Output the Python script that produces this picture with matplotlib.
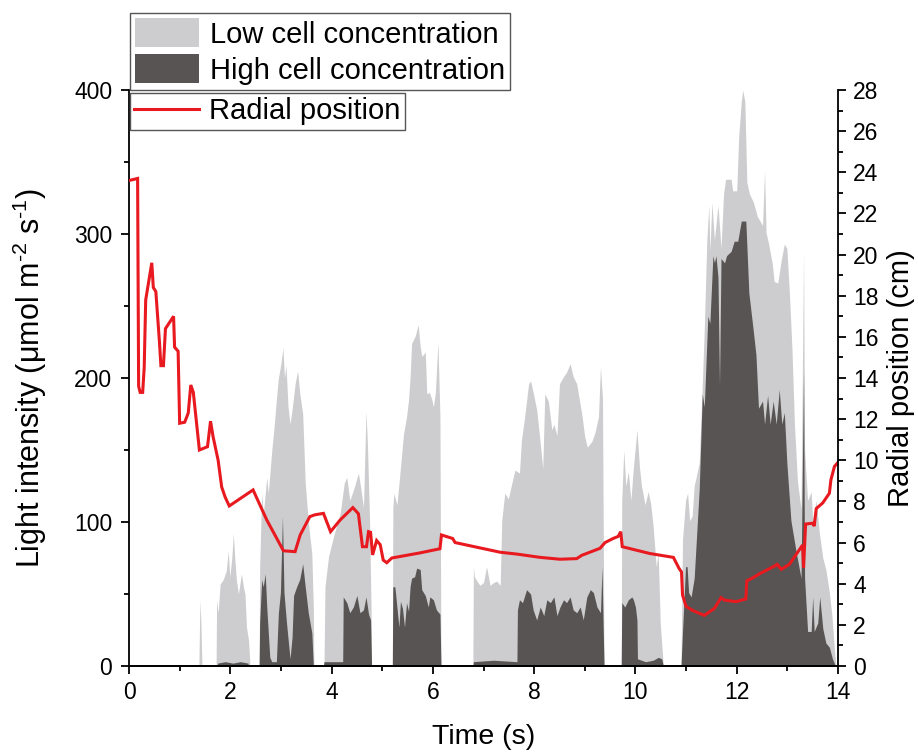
import matplotlib
matplotlib.use("Agg")
import matplotlib.pyplot as plt
from matplotlib.patches import Patch
from matplotlib.lines import Line2D
from matplotlib.ticker import MultipleLocator

plt.rcParams["font.family"] = ["Liberation Sans", "DejaVu Sans"]
plt.rcParams["mathtext.fontset"] = "custom"
plt.rcParams["mathtext.rm"] = "Liberation Sans"
plt.rcParams["mathtext.it"] = "Liberation Sans"

# low cell concentration (light grey), time in s, light intensity in umol m-2 s-1
low_t = [0.0, 1.38, 1.40, 1.42, 1.44,
         1.72, 1.73, 1.76, 1.80, 1.86, 1.92, 1.96, 1.99, 2.03, 2.06, 2.09, 2.12, 2.16, 2.22, 2.26, 2.29, 2.32, 2.36, 2.39,
         2.57, 2.58, 2.62, 2.65, 2.72, 2.75, 2.82, 2.86, 2.91, 2.95, 3.00, 3.04, 3.07, 3.10, 3.14, 3.18, 3.22, 3.28,
         3.33, 3.37, 3.43, 3.48, 3.54, 3.61, 3.64, 3.65,
         3.85, 3.87, 3.94, 4.04, 4.17, 4.25, 4.30, 4.36, 4.43, 4.53, 4.57, 4.63, 4.68, 4.71, 4.75, 4.78, 4.79,
         5.20, 5.21, 5.23, 5.29, 5.34, 5.42, 5.48, 5.52, 5.55, 5.58, 5.65, 5.71, 5.75, 5.78, 5.85, 5.88, 5.93, 5.98,
         6.01, 6.05, 6.10, 6.14, 6.16,
         6.79, 6.80, 6.82, 6.87, 6.93, 7.00, 7.06, 7.13, 7.20, 7.26, 7.33, 7.36, 7.42, 7.49, 7.56, 7.62, 7.71, 7.75,
         7.82, 7.89, 7.93, 7.98, 8.05, 8.12, 8.17, 8.21, 8.28, 8.35, 8.39, 8.45, 8.50, 8.58, 8.64, 8.71, 8.77, 8.84,
         8.94, 9.00, 9.05, 9.14, 9.20, 9.27, 9.31, 9.35, 9.38,
         9.72, 9.73, 9.77, 9.81, 9.86, 9.91, 9.96, 10.03, 10.08, 10.12, 10.19, 10.25, 10.30, 10.35, 10.41, 10.45,
         10.49, 10.55,
         10.90, 10.93, 10.99, 11.03, 11.07, 11.12, 11.16, 11.26, 11.32, 11.36, 11.41, 11.45, 11.47, 11.51, 11.56,
         11.63, 11.69, 11.74, 11.78, 11.89, 11.92, 12.00, 12.04, 12.09, 12.12, 12.16, 12.20, 12.25, 12.33, 12.41,
         12.51, 12.55, 12.58, 12.63, 12.70, 12.74, 12.81, 12.88, 12.94, 12.99, 13.04, 13.09, 13.14, 13.20, 13.27,
         13.32, 13.34, 13.40, 13.47, 13.50, 13.57, 13.63, 13.70, 13.76, 13.83, 13.88, 13.93, 13.96, 14.0]
low_v = [0, 0, 46, 30, 0,
         0, 46, 37, 57, 60, 66, 80, 62, 75, 92, 74, 60, 50, 64, 55, 50, 27, 18, 0,
         0, 69, 120, 105, 131, 120, 150, 164, 185, 200, 210, 221, 200, 209, 180, 168, 178, 196,
         205, 190, 175, 127, 100, 78, 40, 0,
         0, 55, 76, 90, 106, 127, 131, 115, 122, 134, 125, 110, 177, 152, 101, 40, 0,
         0, 110, 120, 112, 130, 161, 173, 185, 200, 224, 229, 237, 222, 215, 218, 189, 190, 185,
         180, 190, 225, 173, 0,
         0, 69, 62, 59, 56, 58, 69, 56, 58, 59, 56, 101, 120, 116, 127, 136, 134, 157,
         175, 196, 198, 190, 178, 155, 137, 189, 184, 164, 168, 160, 196, 201, 204, 210, 201, 196,
         175, 159, 152, 156, 162, 173, 208, 185, 0,
         0, 115, 150, 125, 135, 115, 138, 164, 138, 125, 112, 121, 113, 97, 69, 78,
         30, 0,
         0, 88, 115, 120, 101, 104, 125, 141, 195, 235, 296, 320, 288, 322, 296,
         320, 290, 328, 338, 338, 330, 330, 368, 392, 400, 392, 336, 328, 322, 312,
         306, 344, 301, 293, 280, 267, 266, 282, 293, 290, 259, 221, 168, 128, 109,
         288, 150, 115, 121, 101, 115, 93, 75, 67, 51, 35, 11, 0, 0]

# high cell concentration (dark grey)
high_t = [0.0, 1.74, 1.75, 1.90, 2.05, 2.20, 2.35, 2.36,
          2.57, 2.58, 2.62, 2.65, 2.69, 2.72, 2.78, 2.82, 2.91, 2.95, 2.99, 3.02, 3.03, 3.05, 3.06, 3.11, 3.18,
          3.22, 3.25, 3.31, 3.37, 3.43, 3.48, 3.54, 3.61, 3.64,
          3.84, 3.85, 4.22, 4.23, 4.30, 4.36, 4.43, 4.50, 4.56, 4.63, 4.68, 4.73, 4.77, 4.79,
          5.20, 5.21, 5.25, 5.29, 5.33, 5.36, 5.40, 5.44, 5.48, 5.52, 5.55, 5.58, 5.64, 5.68, 5.75, 5.78, 5.85,
          5.91, 5.94, 6.01, 6.07, 6.14, 6.16,
          6.79, 6.80, 7.20, 7.66, 7.67, 7.71, 7.77, 7.85, 7.93, 7.98, 8.05, 8.12, 8.19, 8.25, 8.32, 8.39, 8.45,
          8.51, 8.58, 8.64, 8.71, 8.77, 8.84, 8.91, 8.97, 9.04, 9.11, 9.17, 9.24, 9.31, 9.34, 9.36, 9.38,
          9.72, 9.73, 9.79, 9.86, 9.93, 9.96, 10.00, 10.03, 10.04, 10.20, 10.35, 10.45, 10.52, 10.55,
          10.90, 10.93, 10.99, 11.02, 11.05, 11.10, 11.16, 11.26, 11.32, 11.36, 11.43, 11.47, 11.53, 11.56,
          11.59, 11.63, 11.66, 11.69, 11.76, 11.80, 11.89, 11.95, 12.02, 12.09, 12.18, 12.24, 12.32, 12.38,
          12.43, 12.51, 12.55, 12.61, 12.66, 12.72, 12.78, 12.84, 12.89, 12.94, 12.99, 13.07, 13.17, 13.27,
          13.32, 13.34, 13.40, 13.47, 13.50, 13.53, 13.60, 13.64, 13.70, 13.76, 13.83, 13.89, 13.95, 14.0]
high_v = [0, 0, 2, 3, 2, 3, 2, 0,
          0, 30, 60, 55, 64, 41, 6, 3, 3, 37, 51, 90, 104, 70, 51, 30, 5,
          20, 49, 55, 60, 71, 55, 37, 23, 0,
          0, 3, 3, 48, 44, 37, 41, 49, 37, 39, 48, 36, 32, 0,
          0, 55, 55, 41, 27, 45, 40, 27, 44, 38, 55, 61, 62, 68, 67, 53, 49,
          41, 48, 46, 39, 36, 0,
          0, 3, 4, 3, 39, 46, 44, 53, 50, 39, 32, 41, 35, 46, 44, 48, 35,
          41, 46, 44, 48, 39, 37, 41, 32, 48, 53, 51, 41, 37, 69, 32, 0,
          0, 44, 41, 46, 48, 46, 41, 32, 5, 3, 4, 6, 5, 0,
          0, 24, 69, 69, 51, 48, 61, 123, 189, 180, 243, 238, 285, 280,
          285, 270, 195, 283, 280, 285, 288, 295, 295, 309, 309, 259, 235, 216,
          179, 184, 168, 188, 168, 184, 168, 192, 168, 176, 141, 101, 80, 61,
          205, 61, 24, 24, 48, 24, 30, 48, 26, 16, 13, 5, 0, 0]

# radial position (cm)
rad_t = [0.0, 0.17, 0.19, 0.22, 0.27, 0.30, 0.33, 0.45, 0.48, 0.53, 0.60, 0.63, 0.68, 0.72, 0.88, 0.90, 0.97,
         1.00, 1.10, 1.17, 1.22, 1.27, 1.39, 1.55, 1.61, 1.66, 1.76, 1.83, 1.90, 1.98, 2.45, 2.72, 3.05, 3.28,
         3.38, 3.57, 3.67, 3.84, 3.98, 4.17, 4.42, 4.53, 4.61, 4.69, 4.73, 4.77, 4.81, 4.89, 4.96, 5.02, 5.09,
         5.19, 5.75, 6.14, 6.17, 6.39, 6.44, 7.33, 7.66, 8.12, 8.51, 8.84, 8.94, 9.30, 9.40, 9.56, 9.66, 9.71,
         9.74, 10.28, 10.75, 10.86, 10.91, 10.93, 11.00, 11.13, 11.36, 11.56, 11.69, 11.76, 11.99, 12.18, 12.20,
         12.32, 12.45, 12.74, 12.80, 12.88, 13.04, 13.17, 13.30, 13.32, 13.36, 13.50, 13.53, 13.57, 13.70, 13.83,
         13.86, 13.93, 14.0]
rad_v = [23.6, 23.7, 13.6, 13.3, 13.3, 14.5, 17.8, 19.6, 18.4, 18.2, 15.8, 14.6, 14.6, 16.4, 17.0, 15.5, 15.3,
         11.8, 11.85, 12.3, 13.66, 13.3, 10.5, 10.66, 11.9, 11.15, 10.0, 8.7, 8.2, 7.78, 8.56, 7.1, 5.6, 5.56,
         6.37, 7.26, 7.35, 7.42, 6.53, 7.1, 7.7, 7.4, 5.8, 5.8, 6.53, 6.5, 5.4, 6.1, 5.9, 5.15, 5.02,
         5.25, 5.5, 5.7, 6.37, 6.2, 6.0, 5.53, 5.44, 5.28, 5.19, 5.22, 5.38, 5.72, 6.0, 6.2, 6.3, 6.53,
         5.8, 5.47, 5.28, 4.75, 4.57, 3.45, 2.9, 2.7, 2.46, 2.8, 3.32, 3.2, 3.13, 3.26, 4.14,
         4.29, 4.48, 4.85, 4.94, 4.7, 4.94, 5.41, 5.88, 4.76, 6.9, 6.94, 6.8, 7.65, 7.93, 8.4,
         9.05, 9.7, 9.9]

LIGHT = "#cdcdcf"
DARK = "#585453"
RED = "#e8191f"

fig = plt.figure(figsize=(9.18, 7.55), dpi=100)
ax = fig.add_axes([129 / 918, 1 - 666 / 755, 709 / 918, 576 / 755])
ax.fill_between(low_t, 0, low_v, color=LIGHT, linewidth=0)
ax.fill_between(high_t, 0, high_v, color=DARK, linewidth=0)
ax.set_xlim(0, 14); ax.set_ylim(0, 400)
ax.xaxis.set_major_locator(MultipleLocator(2)); ax.xaxis.set_minor_locator(MultipleLocator(1))
ax.yaxis.set_major_locator(MultipleLocator(100)); ax.yaxis.set_minor_locator(MultipleLocator(50))

ax2 = ax.twinx()
ax2.plot(rad_t, rad_v, color=RED, linewidth=2.2, solid_joinstyle="miter")
ax2.set_ylim(0, 28)
ax2.yaxis.set_major_locator(MultipleLocator(2)); ax2.yaxis.set_minor_locator(MultipleLocator(1))

for a in (ax, ax2):
    a.spines["top"].set_visible(False)
    for s in a.spines.values():
        s.set_linewidth(1.3)
    a.tick_params(which="major", direction="out", length=6, width=1.3, labelsize=16.5, pad=5)
    a.tick_params(which="minor", direction="out", length=3.5, width=1.3)
ax.spines["right"].set_visible(False)
ax2.spines["left"].set_visible(False)
ax.tick_params(axis="y", which="major", pad=6)

ax.set_xlabel("Time (s)", fontsize=20.5, labelpad=14)
ax.set_ylabel("Light intensity (μmol m$^{\u2010 2}$ s$^{\u2010 1}$)", fontsize=22, labelpad=18)
ax2.set_ylabel("Radial position (cm)", fontsize=21, labelpad=6)

h1 = [Patch(facecolor=LIGHT, edgecolor="none", label="Low cell concentration"),
      Patch(facecolor=DARK, edgecolor="none", label="High cell concentration")]
leg1 = ax2.legend(handles=h1, loc="upper left", bbox_to_anchor=(130 / 918, 1 - 13 / 755),
                  bbox_transform=fig.transFigure, fontsize=21, frameon=True, fancybox=False,
                  framealpha=1, edgecolor="#555555", borderaxespad=0, borderpad=0.18,
                  labelspacing=0.2, handlelength=2.2, handleheight=1.15, handletextpad=0.35)
leg1.get_frame().set_linewidth(1.0)
ax2.add_artist(leg1)
h2 = [Line2D([], [], color=RED, linewidth=2.2, label="Radial position")]
leg2 = ax2.legend(handles=h2, loc="upper left", bbox_to_anchor=(130 / 918, 1 - 93 / 755),
                  bbox_transform=fig.transFigure, fontsize=21, frameon=True, fancybox=False,
                  framealpha=1, edgecolor="#555555", borderaxespad=0, borderpad=0.15,
                  handlelength=2.2, handletextpad=0.35)
leg2.get_frame().set_linewidth(1.0)

fig.savefig("out.png", dpi=100, facecolor="white")
